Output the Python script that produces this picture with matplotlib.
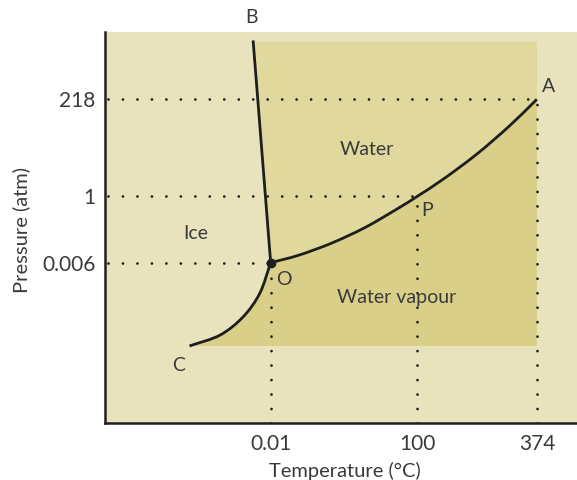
import numpy as np
import matplotlib.pyplot as plt
from matplotlib.patches import Polygon, PathPatch
from matplotlib.path import Path

plt.rcParams['font.family'] = ['Lato', 'DejaVu Sans']

# schematic phase diagram of water (axes run 0..100 in both directions)
temp_labels = ["0.01", "100", "374"]
temp_pos = [35.1, 66.2, 91.5]
pres_labels = ["218", "1", "0.006"]
pres_pos = [82.8, 58.0, 41.0]

# vaporisation curve O -> P -> A
oa_x = [35.1, 41.0, 48.0, 55.1, 62.1, 66.2, 71.7, 78.8, 85.8, 91.5]
oa_y = [41.0, 42.9, 46.0, 50.0, 54.9, 58.0, 62.4, 68.8, 76.1, 82.8]
# sublimation curve C -> O
co_x = [17.9, 24.4, 29.3, 32.8, 35.1]
co_y = [19.7, 22.5, 27.2, 33.2, 41.0]
# fusion line O -> B
ob_x = [35.1, 31.4]
ob_y = [41.0, 97.5]

BG = "#E9E3BD"
WATER = "#E1D89E"
VAPOUR = "#D9CF88"
INK = "#1E1E1E"
TXT = "#3A3A3A"


def smooth_path(xs, ys):
    # Catmull-Rom through the read points, drawn as cubic Bezier segments
    p = np.column_stack([xs, ys])
    ext = np.vstack([2 * p[0] - p[1], p, 2 * p[-1] - p[-2]])
    verts = [p[0]]
    codes = [Path.MOVETO]
    for i in range(1, len(ext) - 2):
        c1 = ext[i] + (ext[i + 1] - ext[i - 1]) / 6
        c2 = ext[i + 1] - (ext[i + 2] - ext[i]) / 6
        verts += [c1, c2, ext[i + 1]]
        codes += [Path.CURVE4] * 3
    return Path(verts, codes)


fig = plt.figure(figsize=(5.77, 4.8), dpi=100)
ax = fig.add_axes([105 / 577, 57 / 480, 472 / 577, 391 / 480])
ax.set_xlim(0, 100)
ax.set_ylim(0, 100)
ax.set_facecolor(BG)

# shaded regions
water = np.column_stack([
    [ob_x[1], oa_x[-1]] + oa_x[::-1],
    [ob_y[1], ob_y[1]] + oa_y[::-1],
])
ax.add_patch(Polygon(water, closed=True, facecolor=WATER, edgecolor='none', zorder=1))

vap = np.column_stack([
    co_x + oa_x[1:] + [oa_x[-1], co_x[0]],
    co_y + oa_y[1:] + [co_y[0], co_y[0]],
])
ax.add_patch(Polygon(vap, closed=True, facecolor=VAPOUR, edgecolor='none', zorder=1))

# dotted guide lines
dot = dict(color=INK, lw=2.0, linestyle=(0, (0.01, 5.2)), dash_capstyle='round', zorder=2)
for y, x_end in zip(pres_pos, [oa_x[-1], oa_x[5], oa_x[0]]):
    ax.plot([0.6, x_end], [y, y], **dot)
for x, y_end in zip(temp_pos, [oa_y[0], oa_y[5], oa_y[-1]]):
    ax.plot([x, x], [0, y_end], **dot)

# phase boundaries
for xs, ys in [(oa_x, oa_y), (co_x, co_y)]:
    ax.add_patch(PathPatch(smooth_path(xs, ys), facecolor='none', edgecolor=INK,
                           lw=2.0, zorder=3, capstyle='butt'))
ax.plot(ob_x, ob_y, color=INK, lw=2.0, zorder=3)
ax.plot(oa_x[0], oa_y[0], 'o', color=INK, ms=6, zorder=4)

# labels
fs = 15
ax.text(31.0, 101.5, "B", ha='center', va='bottom', fontsize=14, color=TXT, clip_on=False)
ax.text(92.5, 84.0, "A", ha='left', va='bottom', fontsize=14, color=TXT)
ax.text(67.0, 56.5, "P", ha='left', va='top', fontsize=14, color=TXT)
ax.text(36.2, 39.0, "O", ha='left', va='top', fontsize=14, color=TXT)
ax.text(15.5, 17.0, "C", ha='center', va='top', fontsize=14, color=TXT)
ax.text(19.3, 48.5, "Ice", ha='center', va='center', fontsize=14, color=TXT)
ax.text(55.5, 70.0, "Water", ha='center', va='center', fontsize=14, color=TXT)
ax.text(61.8, 32.0, "Water vapour", ha='center', va='center', fontsize=14, color=TXT)

ax.set_xticks(temp_pos, temp_labels)
ax.set_yticks(pres_pos, pres_labels)
ax.tick_params(length=0, labelsize=fs, labelcolor=TXT)
ax.tick_params(axis='x', pad=8)
ax.tick_params(axis='y', pad=7)

for s in ['top', 'right']:
    ax.spines[s].set_visible(False)
for s in ['left', 'bottom']:
    ax.spines[s].set_linewidth(1.8)
    ax.spines[s].set_color(INK)

fig.text(21 / 577, 1 - 230 / 480, "Pressure (atm)", rotation=90, ha='center', va='center',
         fontsize=14.5, color=TXT)
fig.text(345 / 577, 1 - 471 / 480, "Temperature (\u00b0C)", ha='center', va='center',
         fontsize=14.5, color=TXT)

fig.savefig("out.png", dpi=100, facecolor='white')
